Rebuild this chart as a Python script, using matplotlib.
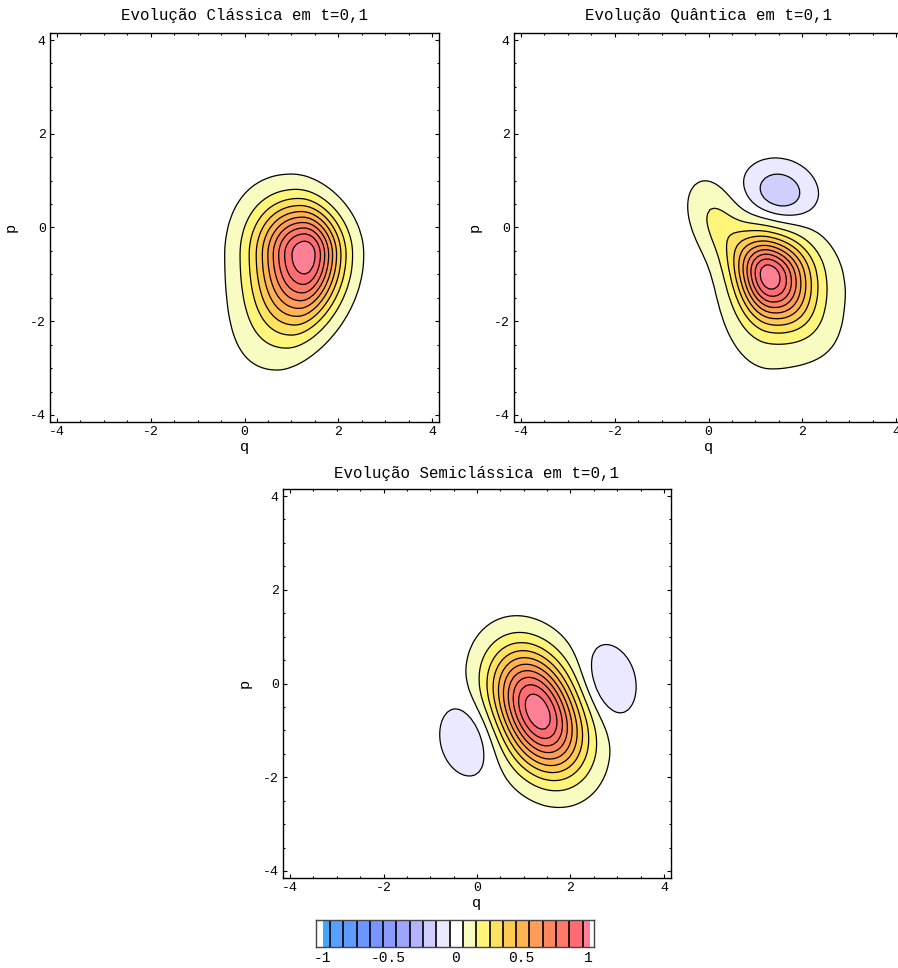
import numpy as np
import matplotlib
matplotlib.use("Agg")
import matplotlib.pyplot as plt
from matplotlib.colors import ListedColormap
from matplotlib.ticker import MultipleLocator

plt.rcParams['font.family'] = ['Liberation Mono', 'DejaVu Sans']
plt.rcParams['axes.unicode_minus'] = False

# ---------------- data ----------------
titles = ["Evolução Clássica em t=0,1",
          "Evolução Quântica em t=0,1",
          "Evolução Semiclássica em t=0,1"]
x_label = "q"
y_label = "p"
axis_lim = 4.15
major_ticks = [-4, -2, 0, 2, 4]
cbar_ticks = [-1, -0.5, 0, 0.5, 1]
cbar_ticklabels = ["-1", "-0.5", "0", "0.5", "1"]

# contour levels and fill colours of each band
contour_levels = [-0.94, -0.84, -0.74, -0.64, -0.54, -0.44, -0.34, -0.24, -0.14, -0.04,
                  0.06, 0.16, 0.26, 0.36, 0.46, 0.56, 0.66, 0.76, 0.86, 0.96]
cbar_bounds = [-1.045, -0.99] + contour_levels + [1.015, 1.045]
band_colors = ["#ffffff", "#45a5f8",
               "#58a0ff", "#5f9bff", "#6b96ff", "#7a95ff", "#8a9aff",
               "#9ea5ff", "#b2b4ff", "#d0ceff", "#ebe9ff",
               "#ffffff",
               "#f8fcc0", "#fff57a", "#ffe262", "#ffca52", "#ffb352",
               "#ff9d58", "#ff8760", "#ff7868", "#ff6c72",
               "#ff8094", "#ffffff"]

# phase-space lobes of each distribution (centre, amplitude, orientation,
# widths on the +/- side of the principal axes, bend of the principal axis)
classical_q0 = [1.30]
classical_p0 = [-0.58]
classical_amp = [1.00]
classical_angle = [0.0]
classical_sa_pos = [0.52]
classical_sa_neg = [0.72]
classical_sb_pos = [0.72]
classical_sb_neg = [1.03]
classical_bend = [0.10]
classical_peak = 1.04

quantum_q0 = [1.32, 1.20, 0.10, 1.30, 1.52]
quantum_p0 = [-0.98, -1.00, 0.25, -1.50, 0.76]
quantum_amp = [0.75, 0.30, 0.12, 0.12, -0.25]
quantum_angle = [0.0, 130.0, 110.0, 0.0, -18.0]
quantum_sa_pos = [0.60, 1.00, 0.60, 1.15, 0.46]
quantum_sa_neg = [0.45, 0.90, 0.60, 0.70, 0.46]
quantum_sb_pos = [0.55, 0.42, 0.35, 0.80, 0.38]
quantum_sb_neg = [0.70, 0.42, 0.35, 1.20, 0.38]
quantum_bend = [0.0, 0.0, 0.0, 0.0, 0.0]
quantum_peak = 1.04

semi_q0 = [1.095, 1.505, 2.77, -0.15]
semi_p0 = [-0.145, -1.055, 0.01, -1.16]
semi_amp = [0.52, 0.52, -0.105, -0.105]
semi_angle = [114.0, 114.0, 101.0, 101.0]
semi_sa_pos = [0.75, 0.75, 0.56, 0.56]
semi_sa_neg = [0.75, 0.75, 0.56, 0.56]
semi_sb_pos = [0.58, 0.58, 0.41, 0.42]
semi_sb_neg = [0.58, 0.58, 0.41, 0.42]
semi_bend = [0.0, 0.0, 0.0, 0.0]
semi_peak = 1.04

panels = [
    (classical_q0, classical_p0, classical_amp, classical_angle, classical_sa_pos,
     classical_sa_neg, classical_sb_pos, classical_sb_neg, classical_bend, classical_peak),
    (quantum_q0, quantum_p0, quantum_amp, quantum_angle, quantum_sa_pos,
     quantum_sa_neg, quantum_sb_pos, quantum_sb_neg, quantum_bend, quantum_peak),
    (semi_q0, semi_p0, semi_amp, semi_angle, semi_sa_pos,
     semi_sa_neg, semi_sb_pos, semi_sb_neg, semi_bend, semi_peak),
]


def lobe(Q, P, q0, p0, amp, ang, sap, san, sbp, sbn, bend):
    th = np.deg2rad(ang)
    dq, dp = Q - q0, P - p0
    a = dq * np.cos(th) + dp * np.sin(th)
    b = -dq * np.sin(th) + dp * np.cos(th)
    a = a + bend * b ** 2
    sa = np.where(a >= 0, sap, san)
    sb = np.where(b >= 0, sbp, sbn)
    return amp * np.exp(-0.5 * ((a / sa) ** 2 + (b / sb) ** 2))


def field(Q, P, spec):
    q0s, p0s, amps, angs, saps, sans, sbps, sbns, bends, peak = spec
    W = np.zeros_like(Q)
    for k in range(len(q0s)):
        W += lobe(Q, P, q0s[k], p0s[k], amps[k], angs[k], saps[k], sans[k],
                  sbps[k], sbns[k], bends[k])
    return W / W.max() * peak


# ---------------- figure ----------------
W_PX, H_PX = 898, 968
fig = plt.figure(figsize=(W_PX / 100, H_PX / 100), dpi=100)


def px_axes(x0, y0, x1, y1):
    return fig.add_axes([x0 / W_PX, 1 - y1 / H_PX, (x1 - x0) / W_PX, (y1 - y0) / H_PX])


axes_boxes = [(50, 33, 439, 422), (514, 33, 903, 422), (283, 489, 671, 878)]
title_offsets = [1.046, 1.046, 1.039]

grid = np.linspace(-axis_lim, axis_lim, 100)
Q, P = np.meshgrid(grid, grid)
fill_levels = [-10, -0.99] + contour_levels + [10]
fill_colors = band_colors[:-1]
cmap_bands = ListedColormap(band_colors)

for i, box in enumerate(axes_boxes):
    ax = px_axes(*box)
    Wf = field(Q, P, panels[i])
    ax.contourf(Q, P, Wf, levels=fill_levels, colors=fill_colors)
    ax.contour(Q, P, Wf, levels=contour_levels, colors="black", linewidths=0.9,
               linestyles="solid")
    ax.set_xlim(-axis_lim, axis_lim)
    ax.set_ylim(-axis_lim, axis_lim)
    ax.set_xticks(major_ticks)
    ax.set_yticks(major_ticks)
    ax.xaxis.set_minor_locator(MultipleLocator(0.5))
    ax.yaxis.set_minor_locator(MultipleLocator(0.5))
    ax.tick_params(which="both", direction="in", top=True, right=True,
                   labelsize=9.5, pad=3, width=0.8, color="black")
    ax.tick_params(which="major", length=3)
    ax.tick_params(which="minor", length=1.6)
    for s in ax.spines.values():
        s.set_linewidth(1.0)
    ax.text(0.5, title_offsets[i], titles[i], transform=ax.transAxes,
            ha="center", va="center", fontsize=11.3)
    ax.text(0.5, -0.064, x_label, transform=ax.transAxes, ha="center",
            va="center", fontsize=11)
    ax.text(-0.1, 0.5, y_label, transform=ax.transAxes, ha="center",
            va="center", fontsize=11, rotation=90)

# legend bar
cax = px_axes(316, 920, 594, 947)
vals = np.arange(len(band_colors)).reshape(1, -1)
cax.pcolormesh(np.array(cbar_bounds), np.array([0, 1]), vals, cmap=cmap_bands,
               vmin=-0.5, vmax=len(band_colors) - 0.5, shading="flat")
for lv in contour_levels:
    cax.axvline(lv, color="black", lw=1.2)
cax.set_xlim(cbar_bounds[0], cbar_bounds[-1])
cax.set_ylim(0, 1)
cax.set_yticks([])
cax.set_xticks(cbar_ticks)
cax.set_xticklabels(cbar_ticklabels)
cax.tick_params(axis="x", length=0, labelsize=10.5, pad=3)
for s in cax.spines.values():
    s.set_linewidth(1.0)
    s.set_color("#444444")

fig.savefig("out.png", dpi=100)
